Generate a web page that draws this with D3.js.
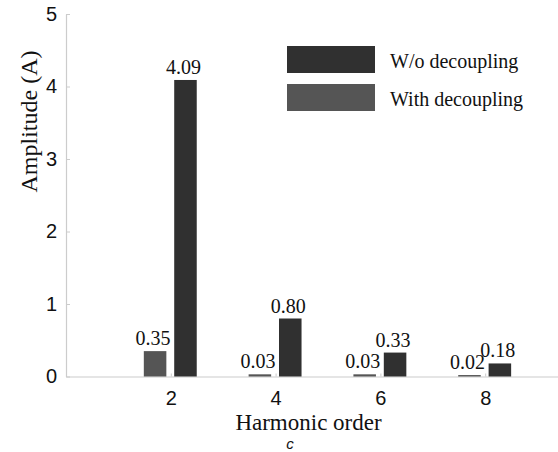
<!DOCTYPE html>
<html>
<head>
<meta charset="utf-8">
<script src="https://cdn.jsdelivr.net/npm/d3@7"></script>
<style>
  html, body { margin: 0; padding: 0; background: #fff; }
  svg { display: block; }
  .serif { font-family: "Liberation Serif", "Times New Roman", serif; }
  .sans { font-family: "Liberation Sans", Arial, sans-serif; }
</style>
</head>
<body>
<svg id="chart" width="558" height="452"></svg>
<script>
const categories = [2, 4, 6, 8];
const withDecoupling = [0.35, 0.03, 0.03, 0.02];
const withoutDecoupling = [4.09, 0.80, 0.33, 0.18];
const yTicks = [0, 1, 2, 3, 4, 5];
const seriesNames = ["W/o decoupling", "With decoupling"];
const xTitle = "Harmonic order";
const yTitle = "Amplitude (A)";
const caption = "c";

const colDark = "#303030";
const colGray = "#555555";
const axisCol = "#cccccc";

const svg = d3.select("#chart");
const x = d3.scaleLinear().domain([0, 10]).range([66, 590]);
const y = d3.scaleLinear().domain([0, 5]).range([376.5, 14]);
const barW = x(0.43) - x(0);

// Y axis
const yAxis = svg.append("g").attr("transform", `translate(${x(0)},0)`)
  .call(d3.axisLeft(y).tickValues(yTicks).tickFormat(d3.format("d"))
    .tickSizeInner(-4).tickSizeOuter(0).tickPadding(9));
yAxis.attr("font-family", null).attr("font-size", null);
yAxis.select(".domain").attr("stroke", axisCol).attr("stroke-width", 1.2);
yAxis.selectAll(".tick line").attr("stroke", axisCol);
yAxis.selectAll(".tick text").attr("class", "sans").style("font-size", "20px").attr("fill", "#111");

// X axis
const xAxis = svg.append("g").attr("transform", `translate(0,${y(0)})`)
  .call(d3.axisBottom(x).tickValues(categories).tickFormat(d3.format("d"))
    .tickSizeInner(-3).tickSizeOuter(0).tickPadding(14));
xAxis.attr("font-family", null).attr("font-size", null);
xAxis.select(".domain").attr("stroke", axisCol).attr("stroke-width", 1.2);
xAxis.selectAll(".tick line").attr("stroke", axisCol);
xAxis.selectAll(".tick text").attr("class", "sans").style("font-size", "20px").attr("fill", "#111");

// Bars
const withData = categories.map((c, i) => ({c, v: withDecoupling[i]}));
const woData = categories.map((c, i) => ({c, v: withoutDecoupling[i]}));

svg.append("g").selectAll("rect").data(withData).join("rect")
  .attr("x", d => x(d.c - 0.3) - barW / 2)
  .attr("y", d => y(d.v))
  .attr("width", barW)
  .attr("height", d => y(0) - y(d.v))
  .attr("fill", colGray);

svg.append("g").selectAll("rect").data(woData).join("rect")
  .attr("x", d => x(d.c + 0.28) - barW / 2)
  .attr("y", d => y(d.v))
  .attr("width", barW)
  .attr("height", d => y(0) - y(d.v))
  .attr("fill", colDark);

// Value labels
svg.append("g").selectAll("text").data(withData).join("text")
  .attr("class", "serif")
  .attr("x", d => x(d.c - 0.3) - 2)
  .attr("y", d => y(d.v) - 6)
  .attr("text-anchor", "middle")
  .style("font-size", "20px").attr("fill", "#111")
  .text(d => d.v.toFixed(2));

svg.append("g").selectAll("text").data(woData).join("text")
  .attr("class", "serif")
  .attr("x", d => x(d.c + 0.28) - 2)
  .attr("y", d => y(d.v) - 6)
  .attr("text-anchor", "middle")
  .style("font-size", "20px").attr("fill", "#111")
  .text(d => d.v.toFixed(2));

// Legend
const legend = svg.append("g");
const legendCols = [colDark, colGray];
seriesNames.forEach((name, i) => {
  const top = 46 + i * 38;
  legend.append("rect").attr("x", 287).attr("y", top).attr("width", 88).attr("height", 27)
    .attr("fill", legendCols[i]);
  legend.append("text").attr("class", "serif").attr("x", 390).attr("y", top + 22)
    .style("font-size", "20px").attr("fill", "#111")
    .text(name);
});

// Axis titles
svg.append("text").attr("class", "serif").attr("x", 308.5).attr("y", 430)
  .attr("text-anchor", "middle")
  .style("font-size", "23px").attr("fill", "#111")
  .text(xTitle);

svg.append("text").attr("class", "serif").attr("transform", "translate(37,121.5) rotate(-90)")
  .attr("text-anchor", "middle")
  .style("font-size", "24px").attr("fill", "#111")
  .text(yTitle);

svg.append("text").attr("class", "sans").attr("x", 290).attr("y", 449)
  .attr("text-anchor", "middle")
  .style("font-style", "italic").style("font-size", "15px").attr("fill", "#111")
  .text(caption);
</script>
</body>
</html>
